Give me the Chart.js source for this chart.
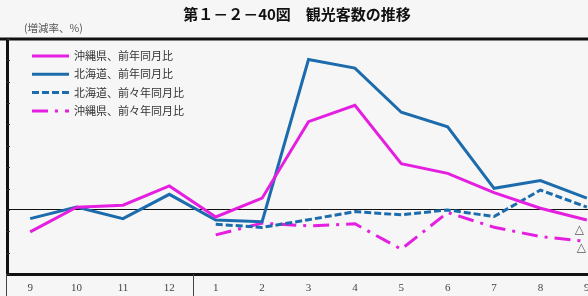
<!DOCTYPE html>
<html>
<head>
<meta charset="utf-8">
<script src="https://cdn.jsdelivr.net/npm/chart.js@4.4.1/dist/chart.umd.min.js"></script>
<style>
  html, body { margin: 0; padding: 0; background: #f6f6f6; overflow: hidden; }
  #wrap { position: relative; width: 588px; height: 296px; overflow: hidden; }
  #title { position: absolute; left: 0; width: 594px; top: 3px; text-align: center;
    font: bold 15px "Noto Sans CJK JP", sans-serif; color: #111; white-space: nowrap; }
  #unit { position: absolute; left: 24px; top: 20px; font: 10.5px "Noto Sans CJK JP", sans-serif; color: #555; }
  canvas { position: absolute; left: 0; top: 0; }
</style>
</head>
<body>
<div id="wrap">
  <canvas id="chart" width="610" height="296"></canvas>
  <div id="title">第１－２－40図　観光客数の推移</div>
  <div id="unit">(増減率、%)</div>
</div>
<script>
const months = ['9', '10', '11', '12', '1', '2', '3', '4', '5', '6', '7', '8', '9'];
const okinawaYoY = [-10.3, 1.3, 2.2, 11.2, -3.3, 5.5, 41.3, 49.0, 21.6, 17.1, 8.1, 0.8, -4.7];
const hokkaidoYoY = [-4.1, 1.3, -4.1, 7.3, -4.7, -5.5, 70.4, 66.4, 45.7, 38.9, 10.1, 13.7, 5.5];
const hokkaidoYo2Y = [null, null, null, null, -6.7, -8.2, -4.6, -0.8, -2.3, 0.0, -3.1, 9.3, 1.3];
const okinawaYo2Y = [null, null, null, null, -11.7, -6.2, -7.5, -6.5, -18.4, -1.2, -8.1, -12.5, -14.8];
const seriesNames = ['沖縄県、前年同月比', '北海道、前年同月比', '北海道、前々年同月比', '沖縄県、前々年同月比'];

const MAGENTA = '#e51fe0';
const BLUE = '#1c6cad';

const frame = {
  id: 'frame',
  afterDraw(chart) {
    const { ctx, chartArea: a, scales: { x, y } } = chart;
    ctx.save();
    // top heavy rule
    ctx.fillStyle = '#111';
    ctx.fillRect(0, a.top - 1.5, chart.width, 3);
    // inner ticks on y axis
    ctx.strokeStyle = '#333';
    ctx.lineWidth = 1;
    y.ticks.forEach(t => {
      const py = Math.round(y.getPixelForValue(t.value)) + 0.5;
      ctx.beginPath(); ctx.moveTo(a.left, py); ctx.lineTo(a.left + 3, py); ctx.stroke();
    });
    // label band dividers
    ctx.strokeStyle = '#444';
    const div = Math.round((x.getPixelForValue(3) + x.getPixelForValue(4)) / 2) + 0.5;
    ctx.beginPath();
    ctx.moveTo(div, a.bottom); ctx.lineTo(div, chart.height);
    ctx.moveTo(a.left - 0.5, a.bottom); ctx.lineTo(a.left - 0.5, chart.height);
    ctx.stroke();
    // legend inside plot
    ctx.font = '11px "Noto Sans CJK JP", sans-serif';
    ctx.textBaseline = 'middle';
    chart.data.datasets.forEach((ds, i) => {
      const ly = 56 + i * 18.3;
      ctx.strokeStyle = ds.borderColor;
      ctx.lineWidth = 3;
      ctx.setLineDash(ds.borderDash || []);
      ctx.beginPath(); ctx.moveTo(32, ly); ctx.lineTo(69, ly); ctx.stroke();
      ctx.setLineDash([]);
      ctx.fillStyle = '#333';
      ctx.fillText(ds.label, 74, ly);
    });
    // cut-off end labels (△ = minus)
    ctx.font = '12px "DejaVu Sans", sans-serif';
    ctx.fillStyle = '#555';
    [[0, 10, -12], [3, 6, -10]].forEach(([di, dy, dx]) => {
      const pts = chart.getDatasetMeta(di).data;
      const p = pts[pts.length - 1];
      const v = chart.data.datasets[di].data[pts.length - 1];
      ctx.fillText('△', p.x + dx, p.y + dy);
      ctx.fillText(Math.abs(v).toFixed(1), p.x + dx + 14, p.y + dy);
    });
    ctx.restore();
  }
};

new Chart(document.getElementById('chart'), {
  type: 'line',
  data: {
    labels: months,
    datasets: [
      { label: seriesNames[0], data: okinawaYoY, borderColor: MAGENTA, borderWidth: 3 },
      { label: seriesNames[1], data: hokkaidoYoY, borderColor: BLUE, borderWidth: 3 },
      { label: seriesNames[2], data: hokkaidoYo2Y, borderColor: BLUE, borderWidth: 3, borderDash: [7, 3] },
      { label: seriesNames[3], data: okinawaYo2Y, borderColor: MAGENTA, borderWidth: 3, borderDash: [16, 7, 3, 7] }
    ]
  },
  options: {
    responsive: false,
    animation: false,
    layout: { padding: { top: 39, left: 0, right: 0, bottom: 0 } },
    elements: { point: { radius: 0 }, line: { tension: 0, borderCapStyle: 'butt', borderJoinStyle: 'miter' } },
    plugins: { legend: { display: false }, tooltip: { enabled: false } },
    scales: {
      x: {
        offset: true,
        grid: { display: false, drawTicks: false },
        border: { display: true, color: '#111', width: 3 },
        ticks: { color: '#444', font: { family: '"Liberation Serif", serif', size: 11 }, padding: 8, maxRotation: 0 },
        afterFit(s) { s.height = 22; }
      },
      y: {
        min: -30, max: 80,
        ticks: { display: false, stepSize: 10 },
        grid: {
          drawTicks: false,
          color: c => c.tick && c.tick.value === 0 ? '#111' : 'rgba(0,0,0,0)',
          lineWidth: 1
        },
        border: { display: true, color: '#111', width: 3 },
        afterFit(s) { s.width = 7; }
      }
    }
  },
  plugins: [frame]
});
</script>
</body>
</html>
